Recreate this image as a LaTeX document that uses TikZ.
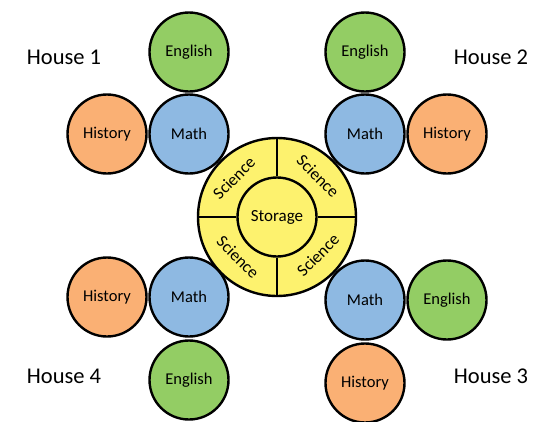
\documentclass[tikz,border=0pt]{standalone}
\usepackage{fontspec}
\setmainfont{Carlito}
\definecolor{engGreen}{HTML}{93CD64}
\definecolor{histOrange}{HTML}{FAB074}
\definecolor{mathBlue}{HTML}{8EB9E2}
\definecolor{sciYellow}{HTML}{FDF26E}
\begin{document}
\begin{tikzpicture}[x=1pt,y=-1pt,
  subject/.style={circle,draw=black,line width=2.4pt,minimum size=79pt,inner sep=0pt,font=\fontsize{16.5}{19}\selectfont},
  english/.style={subject,fill=engGreen},
  history/.style={subject,fill=histOrange},
  mathsub/.style={subject,fill=mathBlue},
  housename/.style={font=\fontsize{22.5}{26}\selectfont},
  sciencelabel/.style={font=\fontsize{17}{19}\selectfont,inner sep=0pt},
  divider/.style={line width=2.4pt}]
\useasboundingbox (0,0) rectangle (533,421);

% central science ring with storage core
\node[circle,draw=black,line width=2.4pt,fill=sciYellow,minimum size=158pt,inner sep=0pt] (hub) at (277,217) {};
\node[circle,draw=black,line width=2.4pt,fill=sciYellow,minimum size=79pt,inner sep=0pt,font=\fontsize{17}{19}\selectfont] (store) at (277,217) {Storage};
\draw[divider] (store.north) -- (hub.north);
\draw[divider] (store.south) -- (hub.south);
\draw[divider] (store.east) -- (hub.east);
\draw[divider] (store.west) -- (hub.west);
\node[sciencelabel,rotate=45]  (sciA) at (234,178) {Science};
\node[sciencelabel,rotate=-45] (sciB) at (318,176) {Science};
\node[sciencelabel,rotate=-45] (sciC) at (238,257) {Science};
\node[sciencelabel,rotate=45]  (sciD) at (318,255) {Science};

% house 1
\node[english] (e1) at (189,52) {English};
\node[mathsub] (m1) at (189,134) {Math};
\node[history] (h1) at (107,134) {History};
\node[housename] (t1) at (64,57) {House 1};

% house 2
\node[english] (e2) at (365,52) {English};
\node[mathsub] (m2) at (365,134) {Math};
\node[history] (h2) at (447,134) {History};
\node[housename] (t2) at (491,57) {House 2};

% house 3
\node[mathsub] (m3) at (365,300) {Math};
\node[english] (e3) at (447,300) {English};
\node[history] (h3) at (365,383) {History};
\node[housename] (t3) at (491,376) {House 3};

% house 4
\node[history] (h4) at (107,297) {History};
\node[mathsub] (m4) at (189,297) {Math};
\node[english] (e4) at (189,380) {English};
\node[housename] (t4) at (64,376) {House 4};
\end{tikzpicture}
\end{document}
